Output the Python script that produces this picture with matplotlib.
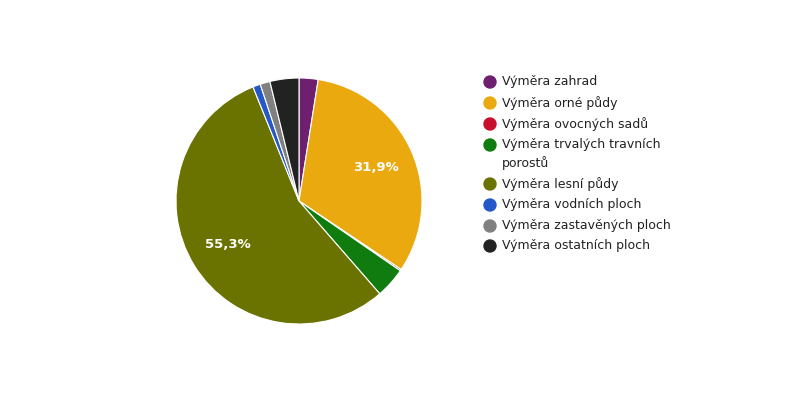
import matplotlib

matplotlib.use("Agg")
import matplotlib.pyplot as plt

LABELS = ["Výměra zahrad", "Výměra orné půdy", "Výměra ovocných sadů",
          "Výměra trvalých travních\nporostů", "Výměra lesní půdy",
          "Výměra vodních ploch", "Výměra zastavěných ploch", "Výměra ostatních ploch"]
VALUES = [2.5, 31.9, 0.2, 4.0, 55.3, 1.0, 1.3, 3.8]
COLORS = ["#6e1f6f", "#eaa90e", "#c8102e", "#107c10", "#6b7300",
          "#2458c8", "#808080", "#222222"]
# y position (pixels from top) of each legend row
LEGEND_Y = [82, 103, 124, 145, 184, 205, 226, 246]

W, H = 800, 400
fig = plt.figure(figsize=(8, 4), dpi=100)
ax = fig.add_axes([(299 - 123) / W, (H - 201 - 123) / H, 246 / W, 246 / H])
ax.pie(VALUES, colors=COLORS, startangle=90, counterclock=False,
       wedgeprops={"edgecolor": "white", "linewidth": 0.8},
       autopct=lambda p: f"{p:.1f}".replace(".", ",") + "%" if p > 10 else "",
       pctdistance=0.68, textprops={"color": "white", "fontsize": 9.5, "fontweight": "bold"})
ax.set_xlim(-1, 1)
ax.set_ylim(-1, 1)
ax.set_aspect("equal")

for lab, col, y in zip(LABELS, COLORS, LEGEND_Y):
    fig.patches.append(matplotlib.patches.Ellipse((490 / W, 1 - y / H), 12 / W, 12 / H,
                                                  color=col, transform=fig.transFigure))
    fig.text(502 / W, 1 - (y - 7) / H, lab, fontsize=9, color="#222222", va="top",
             linespacing=1.45)

fig.savefig("out.png", dpi=100)
